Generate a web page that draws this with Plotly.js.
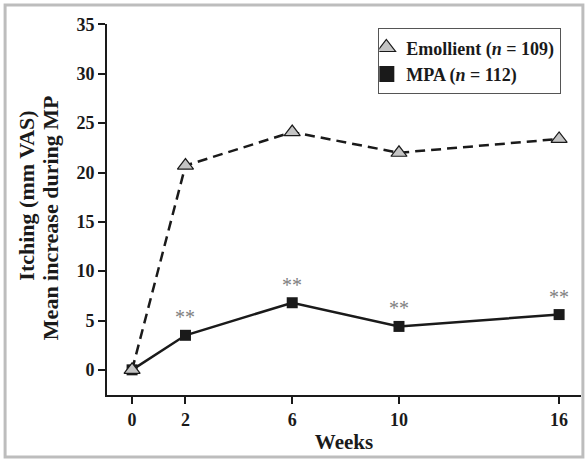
<!DOCTYPE html>
<html><head><meta charset="utf-8">
<script src="https://cdn.plot.ly/plotly-3.0.1.min.js"></script>
<style>html,body{margin:0;padding:0;background:#fff}#c{width:588px;height:464px}</style>
</head><body><div id="c"></div>
<script>
const weeks = [0, 2, 6, 10, 16];
const emollient = [0, 20.7, 24.1, 22.0, 23.4];
const mpa = [0, 3.5, 6.8, 4.4, 5.6];
const sigWeeks = [2, 6, 10, 16];
const sigMpa = [3.5, 6.8, 4.4, 5.6];
const sigLabel = '**';
const yTicks = [0, 5, 10, 15, 20, 25, 30, 35];
const emoName = 'Emollient (<i>n</i> = 109)';
const mpaName = 'MPA (<i>n</i> = 112)';

const FONT = '"Liberation Serif", "Times New Roman", serif';
const traces = [
  {x: weeks, y: mpa, mode: 'lines+markers', line: {color: '#1a1a1a', width: 2.5}, showlegend: false,
   marker: {symbol: 'square', size: 11, color: '#1a1a1a', line: {width: 0}}},
  {x: weeks, y: emollient, mode: 'lines+markers', line: {color: '#1a1a1a', width: 2.5, dash: '10px,6px'}, showlegend: false,
   marker: {symbol: 'triangle-up', size: 14, color: '#c4c4c4', line: {width: 1.2, color: '#1a1a1a'}}},
  {x: [null], y: [null], mode: 'markers', name: emoName, legendrank: 1,
   marker: {symbol: 'triangle-up', size: 16, color: '#c4c4c4', line: {width: 1.2, color: '#1a1a1a'}}},
  {x: [null], y: [null], mode: 'markers', name: mpaName, legendrank: 2,
   marker: {symbol: 'square', size: 16, color: '#1a1a1a', line: {width: 0}}}
];

const annotations = sigWeeks.map((w, i) => ({
  x: w, y: sigMpa[i], xref: 'x', yref: 'y', text: sigLabel, showarrow: false,
  yshift: 18, font: {family: FONT, size: 20, color: '#808080', weight: 'normal'}
}));
annotations.push(
  {xref: 'paper', yref: 'paper', x: -0.169, y: 0.537, text: 'Itching (mm VAS)', textangle: -90,
   showarrow: false, xanchor: 'center', yanchor: 'middle', font: {family: FONT, size: 22, color: '#1a1a1a', weight: 'bold'}},
  {xref: 'paper', yref: 'paper', x: -0.120, y: 0.477, text: 'Mean increase during MP', textangle: -90,
   showarrow: false, xanchor: 'center', yanchor: 'middle', font: {family: FONT, size: 22, color: '#1a1a1a', weight: 'bold'}}
);

const layout = {
  width: 588, height: 464,
  margin: {l: 107, r: 7, t: 24, b: 69},
  paper_bgcolor: '#fff', plot_bgcolor: '#fff',
  font: {family: FONT, size: 16, color: '#1a1a1a', weight: 'bold'},
  showlegend: true,
  legend: {x: 0.572, y: 0.989, xanchor: 'left', yanchor: 'top', bgcolor: '#fff', indentation: -13,
           bordercolor: '#555', borderwidth: 1.2, font: {family: FONT, size: 18, weight: 'bold'},
           tracegroupgap: 0, itemwidth: 30},
  xaxis: {range: [-0.94, 16.82], tickvals: weeks, ticks: 'outside', ticklen: 7, tickwidth: 2, tickcolor: '#1a1a1a',
          showline: true, linewidth: 2, linecolor: '#1a1a1a', showgrid: false, zeroline: false,
          tickfont: {family: FONT, size: 18, weight: 'bold'},
          title: {text: 'Weeks', font: {family: FONT, size: 21, weight: 'bold'}, standoff: 6}},
  yaxis: {range: [-2.55, 35.05], tickvals: yTicks, ticks: 'outside', ticklen: 7, tickwidth: 2, tickcolor: '#1a1a1a',
          showline: true, linewidth: 2, linecolor: '#1a1a1a', showgrid: false, zeroline: false,
          tickfont: {family: FONT, size: 18, weight: 'bold'}},
  annotations: annotations,
  shapes: [{type: 'rect', xref: 'paper', yref: 'paper', x0: -0.215, x1: 1.004, y0: -0.167, y1: 1.051,
            line: {color: '#bdbdbd', width: 3}, fillcolor: 'rgba(0,0,0,0)', layer: 'above'}]
};
Plotly.newPlot('c', traces, layout, {staticPlot: true});
</script></body></html>
